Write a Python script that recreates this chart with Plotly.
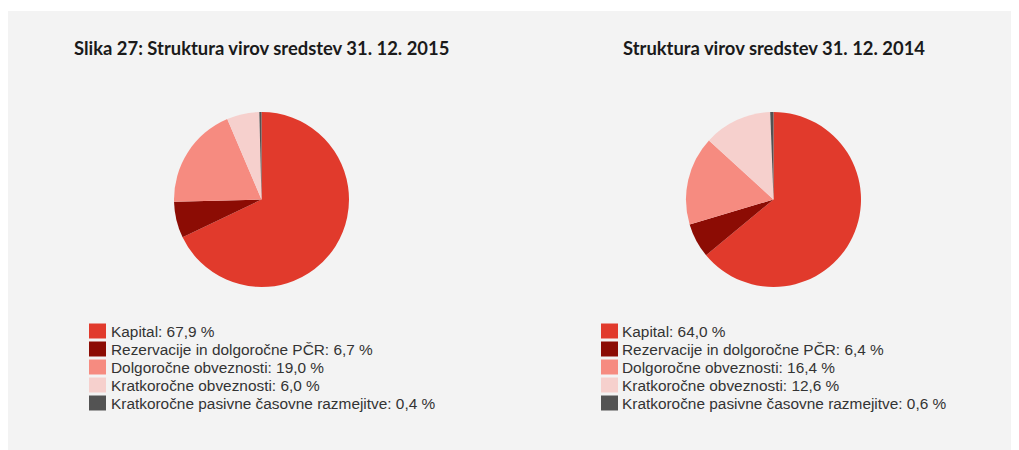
import plotly.graph_objects as go

# ---- data ----
categories = [
    "Kapital",
    "Rezervacije in dolgoročne PČR",
    "Dolgoročne obveznosti",
    "Kratkoročne obveznosti",
    "Kratkoročne pasivne časovne razmejitve",
]
values_2015 = [67.9, 6.7, 19.0, 6.0, 0.4]
values_2014 = [64.0, 6.4, 16.4, 12.6, 0.6]
titles = [
    "Slika 27: Struktura virov sredstev 31. 12. 2015",
    "Struktura virov sredstev 31. 12. 2014",
]
colors = ["#e13a2c", "#8c0c04", "#f68b80", "#f6d0cd", "#535353"]

# ---- layout constants (page pixels; the page body adds an 8px offset) ----
OFF = 8
W, H = 1019 - OFF, 450 - OFF
R = 87.5
pie_centers = [(261.5, 199.5), (773.5, 199.5)]
legend_sq_x = [89, 601]
legend_txt_x = [109, 620]
row0, pitch = 331, 18


def px(x):
    return (x - OFF) / W


def py(y):
    return 1 - (y - OFF) / H


def fmt(v):
    return f"{v:.1f}".replace(".", ",") + " %"


fig = go.Figure()
shapes = [
    dict(type="rect", xref="paper", yref="paper", x0=0, x1=px(1017),
         y0=0, y1=py(11), fillcolor="#f3f3f3", line=dict(width=0), layer="below")
]
annotations = []

for i, vals in enumerate([values_2015, values_2014]):
    cx, cy = pie_centers[i]
    fig.add_trace(go.Pie(
        labels=categories,
        values=vals,
        sort=False,
        direction="clockwise",
        rotation=0,
        marker=dict(colors=colors, line=dict(width=0)),
        textinfo="none",
        hoverinfo="label+percent",
        showlegend=False,
        domain=dict(x=[px(cx - R), px(cx + R)], y=[py(cy + R), py(cy - R)]),
    ))
    annotations.append(dict(
        text=f"<b>{titles[i]}</b>", x=px(cx), y=py(48), xref="paper", yref="paper",
        xanchor="center", yanchor="middle", showarrow=False,
        font=dict(family="Lato", size=18.4, color="#1a1a1a"),
    ))
    for j, (cat, v) in enumerate(zip(categories, vals)):
        yc = row0 + j * pitch
        shapes.append(dict(
            type="rect", xref="paper", yref="paper",
            x0=px(legend_sq_x[i]), x1=px(legend_sq_x[i] + 17),
            y0=py(yc + 7.5), y1=py(yc - 7.5),
            fillcolor=colors[j], line=dict(width=0), layer="above",
        ))
        annotations.append(dict(
            text=f"{cat}: {fmt(v)}", x=px(legend_txt_x[i]), y=py(yc),
            xref="paper", yref="paper", xanchor="left", yanchor="middle",
            showarrow=False,
            font=dict(family="Liberation Sans, Arial", size=15.4, color="#333333"),
        ))

fig.update_layout(
    width=W, height=H,
    margin=dict(l=0, r=0, t=0, b=0),
    paper_bgcolor="white",
    showlegend=False,
    shapes=shapes,
    annotations=annotations,
)

fig.write_html("out.html")
